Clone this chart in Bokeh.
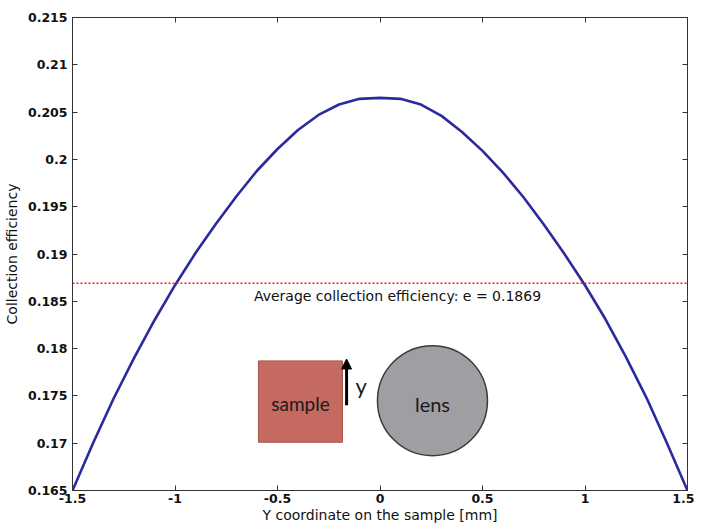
from bokeh.plotting import figure
from bokeh.models import (Range1d, FixedTicker, LinearAxis, Span, Arrow, NormalHead,
                          ColumnDataSource)
from bokeh.core.properties import value
from bokeh.embed import file_html
from bokeh.resources import INLINE

# ---- data -------------------------------------------------------------
y_coord_mm = [-1.5, -1.4, -1.3, -1.2, -1.1, -1.0, -0.9, -0.8, -0.7, -0.6, -0.5,
              -0.4, -0.3, -0.2, -0.1, 0.0, 0.1, 0.2, 0.3, 0.4, 0.5,
              0.6, 0.7, 0.8, 0.9, 1.0, 1.1, 1.2, 1.3, 1.4, 1.5]
collection_eff = [0.1650, 0.1700, 0.1747, 0.1790, 0.1830, 0.1867, 0.1901, 0.1932,
                  0.1961, 0.1988, 0.2011, 0.2031, 0.2047, 0.2058, 0.2064, 0.2065,
                  0.2064, 0.2058, 0.2046, 0.2029, 0.2009, 0.1986, 0.1960, 0.1931,
                  0.1900, 0.1867, 0.1831, 0.1791, 0.1748, 0.1700, 0.1650]
average_eff = 0.1869
avg_label = "Average collection efficiency: e = 0.1869"

x_ticks = [-1.5, -1.0, -0.5, 0.0, 0.5, 1.0, 1.5]
x_tick_labels = ["-1.5", "-1", "-0.5", "0", "0.5", "1", "1.5"]
y_ticks = [0.165, 0.17, 0.175, 0.18, 0.185, 0.19, 0.195, 0.2, 0.205, 0.21, 0.215]
y_tick_labels = ["0.165", "0.17", "0.175", "0.18", "0.185", "0.19", "0.195",
                 "0.2", "0.205", "0.21", "0.215"]

x_label = "Y coordinate on the sample [mm]"
y_label = "Collection efficiency"

# ---- inset sketch positions (data coordinates) ---------------------------
sample_box = dict(left=-0.593, right=-0.183, top=0.1787, bottom=0.1701)
sample_text_pos = (-0.388, 0.1742)
arrow_pos = dict(x=-0.163, y0=0.1740, y1=0.1789)
y_text_pos = (-0.092, 0.1761)
lens_pos = (0.256, 0.1745)
lens_text_pos = (0.256, 0.1741)

FONT = "DejaVu Sans"

p = figure(frame_width=615, frame_height=473,
           min_border_left=67, min_border_right=7, min_border_top=17, min_border_bottom=31,
           x_range=Range1d(-1.5, 1.5), y_range=Range1d(0.165, 0.215),
           output_backend="svg", toolbar_location=None)
p.grid.visible = False
p.outline_line_color = "#333333"
p.outline_line_width = 1
p.background_fill_color = "white"
p.border_fill_color = "white"

def style_axis(ax, ticks, labels, show_labels=True):
    ax.ticker = FixedTicker(ticks=ticks)
    ax.major_label_overrides = {t: l for t, l in zip(ticks, labels)}
    ax.minor_tick_line_color = None
    ax.major_tick_in = 5
    ax.major_tick_out = 0
    ax.major_tick_line_color = "#333333"
    ax.axis_line_color = "#333333"
    ax.major_label_text_font = FONT
    ax.major_label_text_font_style = "bold"
    ax.major_label_text_font_size = "12.5px" if show_labels else "0px"
    ax.major_label_text_color = "#111111"
    ax.axis_label_text_font = FONT
    ax.axis_label_text_font_style = "normal"
    ax.axis_label_text_font_size = "14px"
    ax.axis_label_text_color = "#111111"

style_axis(p.xaxis[0], x_ticks, x_tick_labels)
style_axis(p.yaxis[0], y_ticks, y_tick_labels)
p.xaxis[0].axis_label = x_label
p.yaxis[0].axis_label = y_label
p.xaxis[0].major_label_standoff = 3
p.xaxis[0].axis_label_standoff = 1
p.yaxis[0].major_label_standoff = 5
p.yaxis[0].axis_label_standoff = 5

top_ax = LinearAxis()
style_axis(top_ax, x_ticks, ["" for _ in x_ticks], show_labels=False)
p.add_layout(top_ax, "above")
right_ax = LinearAxis()
style_axis(right_ax, y_ticks, ["" for _ in y_ticks], show_labels=False)
p.add_layout(right_ax, "right")

# ---- curve & average line ------------------------------------------------
src = ColumnDataSource(data=dict(x=y_coord_mm, y=collection_eff))
p.line("x", "y", source=src, line_color="#2a2a9c", line_width=2.6)

p.add_layout(Span(location=average_eff, dimension="width", line_color="#ff1a1a",
                  line_width=1.5, line_dash="2 2"))
p.text(x=[-0.615], y=[average_eff - 0.00130], text=[avg_label],
       text_font=value(FONT), text_font_size="14px", text_color="#111111",
       text_align="left", text_baseline="middle")

# ---- inset sketch ---------------------------------------------------------
p.quad(left=[sample_box["left"]], right=[sample_box["right"]],
       top=[sample_box["top"]], bottom=[sample_box["bottom"]],
       fill_color="#c46a61", line_color="#a9544d", line_width=1)
p.text(x=[sample_text_pos[0]], y=[sample_text_pos[1]], text=["sample"],
       text_font=value("Lato"), text_font_size="19px", text_color="#1a1a1a",
       text_align="center", text_baseline="middle")
p.add_layout(Arrow(end=NormalHead(size=10, fill_color="black", line_color="black"),
                   x_start=arrow_pos["x"], y_start=arrow_pos["y0"],
                   x_end=arrow_pos["x"], y_end=arrow_pos["y1"],
                   line_color="black", line_width=3))
p.text(x=[y_text_pos[0]], y=[y_text_pos[1]], text=["y"],
       text_font=value("Lato"), text_font_size="22px", text_color="#1a1a1a",
       text_align="center", text_baseline="middle")
p.scatter(x=[lens_pos[0]], y=[lens_pos[1]], marker="circle", size=110,
          fill_color="#9e9ea3", line_color="#3a3a3a", line_width=1.5)
p.text(x=[lens_text_pos[0]], y=[lens_text_pos[1]], text=["lens"],
       text_font=value("Lato"), text_font_size="20px", text_color="#1a1a1a",
       text_align="center", text_baseline="middle")

open("out.html", "w").write(file_html(p, INLINE))
